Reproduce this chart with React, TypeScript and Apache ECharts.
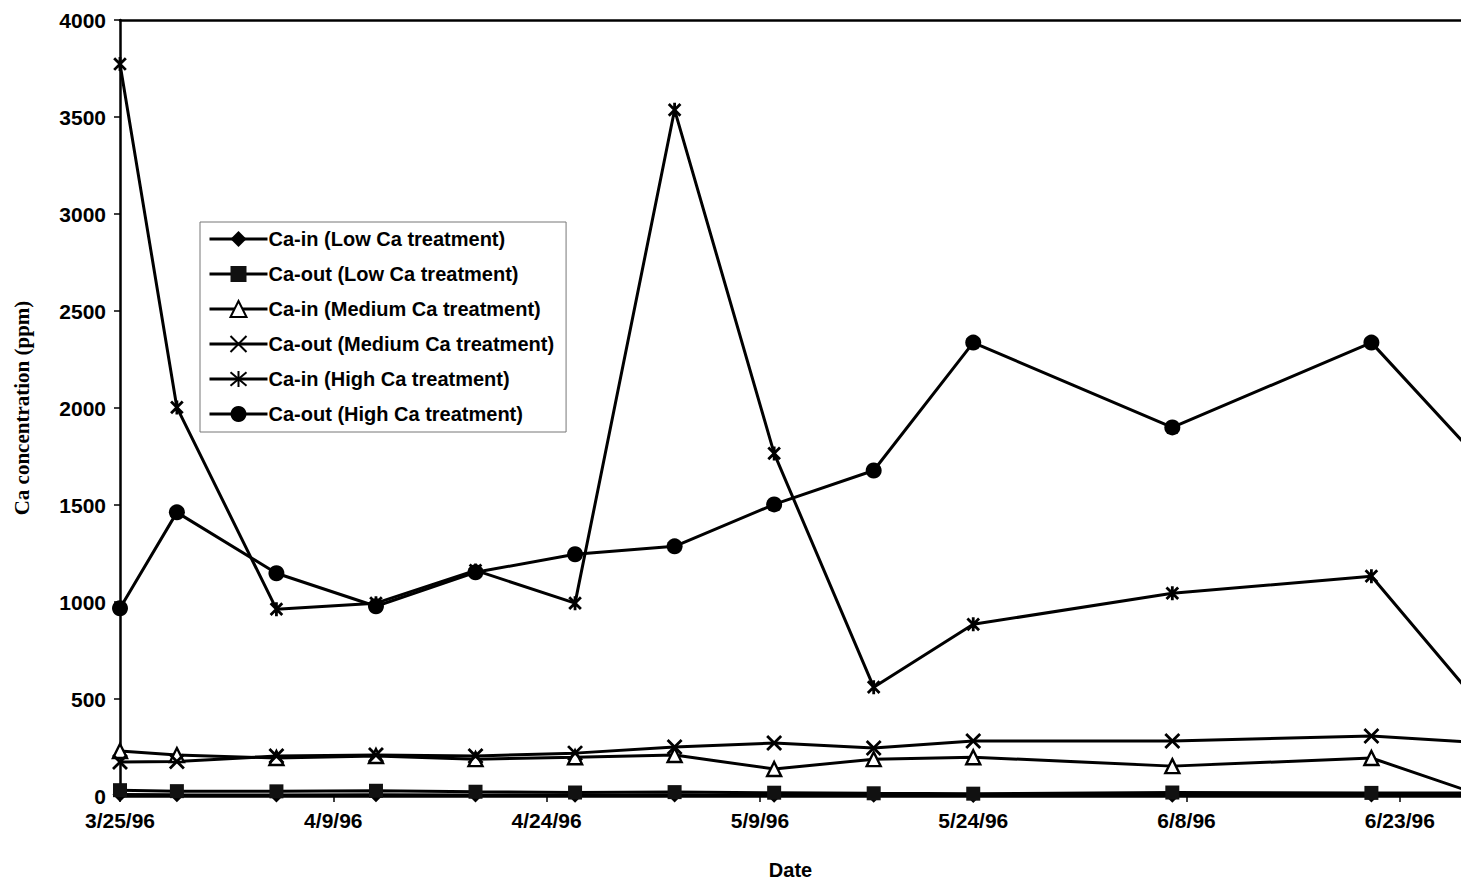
import React, { useEffect, useRef } from "react";
import * as echarts from "echarts";

// Sampling dates (m/d/yy)
const sampleDates = [
  "3/25/96", "3/29/96", "4/5/96", "4/12/96", "4/19/96", "4/26/96", "5/3/96",
  "5/10/96", "5/17/96", "5/24/96", "6/7/96", "6/21/96", "6/28/96",
];

// Ca concentration (ppm)
const lowCaIn = [8, 6, 5, 6, 5, 4, 5, 4, 4, 3, 4, 5, 4];
const lowCaOut = [30, 25, 24, 27, 22, 18, 20, 17, 14, 12, 18, 16, 15];
const mediumCaIn = [232, 211, 196, 206, 190, 200, 211, 139, 190, 200, 154, 196, 21];
const mediumCaOut = [175, 178, 206, 211, 206, 221, 252, 273, 247, 283, 283, 309, 278];
const highCaIn = [3773, 2003, 963, 994, 1163, 994, 3537, 1766, 561, 885, 1045, 1133, 525];
const highCaOut = [968, 1462, 1148, 978, 1153, 1246, 1287, 1503, 1678, 2337, 1900, 2337, 1781];

const seriesNames = [
  "Ca-in (Low Ca treatment)",
  "Ca-out (Low Ca treatment)",
  "Ca-in (Medium Ca treatment)",
  "Ca-out (Medium Ca treatment)",
  "Ca-in (High Ca treatment)",
  "Ca-out (High Ca treatment)",
];

// x axis: days since the first sampling date
const startDate = "3/25/96";
const axisEndDay = 94.3;
const dayTickInterval = 15;

const DAY_MS = 86400000;
function parseDate(s: string): number {
  const [m, d, y] = s.split("/").map(Number);
  return Date.UTC(1900 + y, m - 1, d);
}
const startMs = parseDate(startDate);
const dayOffsets = sampleDates.map((s) => Math.round((parseDate(s) - startMs) / DAY_MS));

function formatDay(v: number): string {
  if (Math.abs(v % dayTickInterval) > 1e-6) return "";
  const dt = new Date(startMs + v * DAY_MS);
  return `${dt.getUTCMonth() + 1}/${dt.getUTCDate()}/${String(dt.getUTCFullYear()).slice(2)}`;
}

const CROSS = "path://M0,0L10,10M10,0L0,10";
const STAR = "path://M0,0L10,10M10,0L0,10M5,-1L5,11";

const SANS = "'Liberation Sans', Arial, sans-serif";
const SERIF = "'Liberation Serif', 'Times New Roman', serif";
const LINE_W = 3;

export default function App() {
  const ref = useRef<HTMLDivElement>(null);

  useEffect(() => {
    if (!ref.current) return;
    const chart = echarts.init(ref.current, null, { renderer: "svg" });

    const pts = (vals: number[]) => vals.map((v, i) => [dayOffsets[i], v]);
    const base = {
      type: "line" as const,
      color: "#000",
      lineStyle: { color: "#000", width: LINE_W },
      symbolKeepAspect: true,
    };

    chart.setOption({
      animation: false,
      backgroundColor: "#fff",
      grid: { left: 120, top: 20, right: 0, bottom: 88, containLabel: false },
      legend: {
        orient: "vertical",
        left: 200,
        top: 222,
        padding: [7, 12, 8, 8],
        itemGap: 15,
        itemWidth: 58,
        itemHeight: 20,
        borderColor: "#777",
        borderWidth: 1,
        lineStyle: { width: LINE_W },
        textStyle: {
          color: "#000",
          fontFamily: SANS,
          fontWeight: "bold",
          fontSize: 20,
          lineHeight: 20,
          padding: [0, 0, 0, -4],
        },
        data: seriesNames,
      },
      xAxis: [
        {
          type: "value",
          min: 0,
          max: axisEndDay,
          interval: dayTickInterval,
          name: "Date",
          nameLocation: "middle",
          nameGap: 64,
          nameTextStyle: { color: "#000", fontFamily: SANS, fontWeight: "bold", fontSize: 20 },
          axisLine: { show: true, onZero: false, lineStyle: { color: "#000", width: 2.5 } },
          axisTick: { show: true, length: 6, lineStyle: { color: "#000", width: 1.5 } },
          axisLabel: {
            formatter: formatDay,
            showMaxLabel: false,
            margin: 14,
            color: "#000",
            fontFamily: SANS,
            fontWeight: "bold",
            fontSize: 21,
          },
          splitLine: { show: false },
        },
        {
          type: "value",
          position: "top",
          min: 0,
          max: axisEndDay,
          interval: dayTickInterval,
          axisLine: { show: true, onZero: false, lineStyle: { color: "#000", width: 2.5 } },
          axisTick: { show: false },
          axisLabel: { show: false },
          splitLine: { show: false },
        },
      ],
      yAxis: {
        type: "value",
        min: 0,
        max: 4000,
        interval: 500,
        name: "Ca concentration (ppm)",
        nameLocation: "middle",
        nameGap: 88,
        nameTextStyle: { color: "#000", fontFamily: SERIF, fontWeight: "bold", fontSize: 21 },
        axisLine: { show: true, onZero: false, lineStyle: { color: "#000", width: 2.5 } },
        axisTick: { show: true, length: 6, lineStyle: { color: "#000", width: 1.5 } },
        axisLabel: {
          formatter: (v: number) => String(v),
          margin: 14,
          color: "#000",
          fontFamily: SANS,
          fontWeight: "bold",
          fontSize: 21,
        },
        splitLine: { show: false },
      },
      series: [
        {
          ...base,
          name: seriesNames[0],
          data: pts(lowCaIn),
          symbol: "diamond",
          symbolSize: 15,
          itemStyle: { color: "#000" },
        },
        {
          ...base,
          name: seriesNames[1],
          data: pts(lowCaOut),
          symbol: "rect",
          symbolSize: 14,
          itemStyle: { color: "#111" },
        },
        {
          ...base,
          name: seriesNames[2],
          data: pts(mediumCaIn),
          symbol: "triangle",
          symbolSize: 14,
          itemStyle: { color: "#fff", borderColor: "#000", borderWidth: 2.4 },
        },
        {
          ...base,
          name: seriesNames[3],
          data: pts(mediumCaOut),
          symbol: CROSS,
          symbolSize: 14,
          itemStyle: { color: "#000", borderColor: "#000", borderWidth: 2.8 },
        },
        {
          ...base,
          name: seriesNames[4],
          data: pts(highCaIn),
          symbol: STAR,
          symbolSize: 14,
          itemStyle: { color: "#000", borderColor: "#000", borderWidth: 2.8 },
        },
        {
          ...base,
          name: seriesNames[5],
          data: pts(highCaOut),
          symbol: "circle",
          symbolSize: 16,
          itemStyle: { color: "#000" },
        },
      ],
    });

    return () => chart.dispose();
  }, []);

  return (
    <div
      ref={ref}
      style={{ position: "fixed", left: 0, top: 0, width: 1461, height: 885, background: "#fff" }}
    />
  );
}
